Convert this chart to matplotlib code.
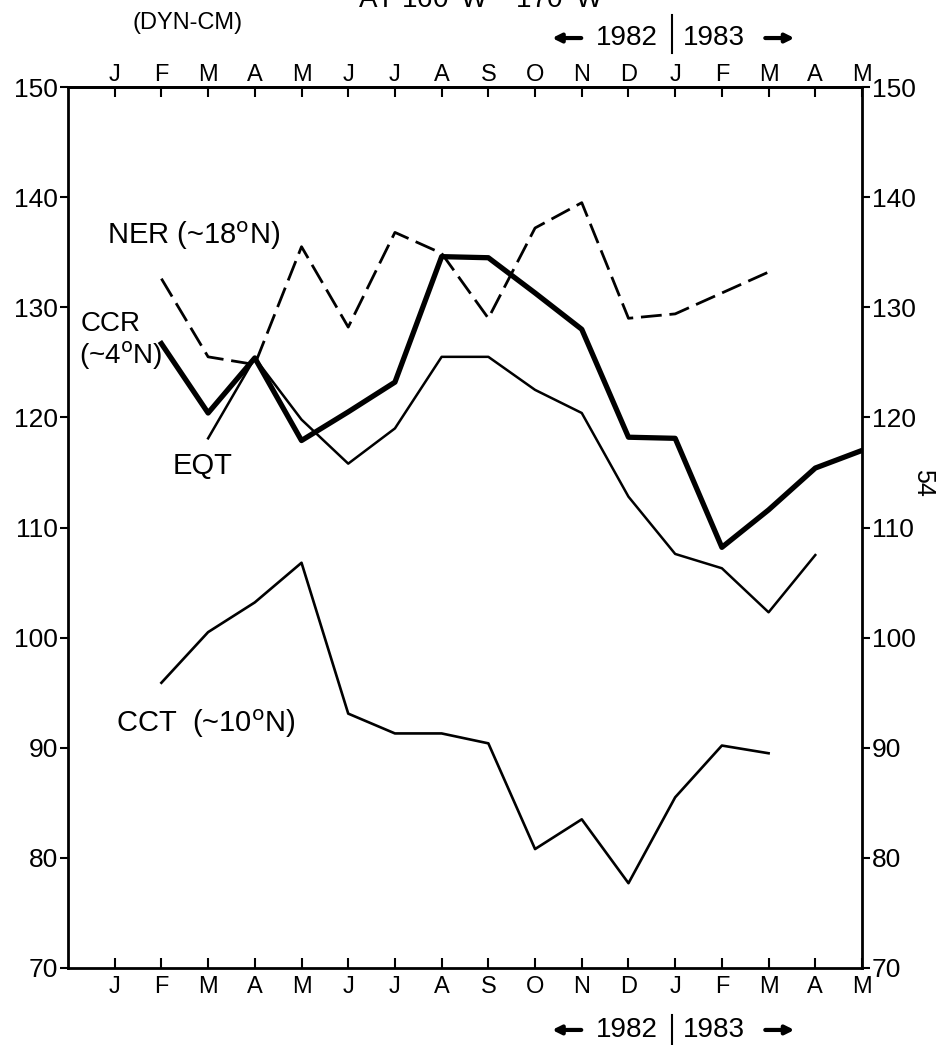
import numpy as np
import matplotlib
matplotlib.use("Agg")
from matplotlib import pyplot as plt
from matplotlib.lines import Line2D

plt.rcParams['font.family'] = ['Liberation Sans', 'DejaVu Sans']

# month index: 1 = Jan 1982 ... 17 = May 1983
meses = ["J", "F", "M", "A", "M", "J", "J", "A", "S", "O", "N", "D",
         "J", "F", "M", "A", "M"]

ner_x = [2, 3, 4, 5, 6, 7, 8, 9, 10, 11, 12, 13, 14, 15]
ner_y = [132.6, 125.5, 124.8, 135.5, 128.2, 136.8, 134.9, 129.0, 137.2,
         139.5, 129.0, 129.4, 131.3, 133.2]

ccr_x = [2, 3, 4, 5, 6, 7, 8, 9, 10, 11, 12, 13, 14, 15, 16, 17]
ccr_y = [126.7, 120.4, 125.4, 117.9, 120.5, 123.2, 134.6, 134.5, 131.3,
         128.0, 118.2, 118.1, 108.2, 111.6, 115.4, 117.0]

eqt_x = [3, 4, 5, 6, 7, 8, 9, 10, 11, 12, 13, 14, 15, 16]
eqt_y = [118.1, 125.4, 119.8, 115.8, 119.0, 125.5, 125.5, 122.5, 120.4,
         112.8, 107.6, 106.3, 102.3, 107.5]

cct_x = [2, 3, 4, 5, 6, 7, 8, 9, 10, 11, 12, 13, 14, 15]
cct_y = [95.9, 100.5, 103.2, 106.8, 93.1, 91.3, 91.3, 90.4, 80.8, 83.5,
         77.7, 85.5, 90.2, 89.5]

fig = plt.figure(figsize=(9.39, 10.45), dpi=100)
ax = fig.add_axes([0.0724, 0.0737, 0.8456, 0.843])

ax.plot(ner_x, ner_y, color='black', lw=2.0, dashes=(7.5, 2.8))
ax.plot(ccr_x, ccr_y, color='black', lw=3.8, solid_joinstyle='round')
ax.plot(eqt_x, eqt_y, color='black', lw=1.8)
ax.plot(cct_x, cct_y, color='black', lw=1.9)

ax.set_xlim(0, 17)
ax.set_ylim(70, 150)
for s in ax.spines.values():
   s.set_linewidth(2.0)

ax.set_xticks(range(1, 18))
ax.set_xticklabels(meses)
ax.set_yticks(range(70, 151, 10))
ax.tick_params(axis='x', direction='in', length=7, width=1.5, top=False,
               labelsize=17, pad=6)
ax.tick_params(axis='y', direction='out', length=6, width=1.5, right=True,
               labelright=True, labelsize=19, pad=1)

arriba = ax.secondary_xaxis('top')
arriba.set_xticks(range(1, 18))
arriba.set_xticklabels(meses)
arriba.tick_params(direction='in', length=7, width=1.5, labelsize=17, pad=1)
arriba.spines['top'].set_linewidth(2.0)

ax.text(0.83, 136.5, "NER (~18$^{\\rm o}$N)", fontsize=21, va='center')
ax.text(0.28, 128.5, "CCR", fontsize=20, va='center')
ax.text(0.24, 125.6, "(~4$^{\\rm o}$N)", fontsize=20, va='center')
ax.text(2.25, 115.6, "EQT", fontsize=21, va='center')
ax.text(1.02, 92.2, "CCT  (~10$^{\\rm o}$N)", fontsize=21, va='center')

# year markers, top and bottom
flecha = dict(arrowstyle='-|>,head_length=0.5,head_width=0.25', lw=3.0,
              color='black', shrinkA=0, shrinkB=0)
for yy, y0, y1 in [(0.9636, 0.9493, 0.9856), (0.0144, 0.0, 0.0287)]:
   fig.add_artist(plt.Annotation("", xy=(0.588, yy), xytext=(0.619, yy),
                                 xycoords='figure fraction',
                                 arrowprops=flecha))
   fig.text(0.700, yy, "1982", fontsize=20, ha='right', va='center')
   fig.add_artist(Line2D([0.716, 0.716], [y0, y1], color='black', lw=1.5,
                         transform=fig.transFigure))
   fig.text(0.727, yy, "1983", fontsize=20, ha='left', va='center')
   fig.add_artist(plt.Annotation("", xy=(0.846, yy), xytext=(0.815, yy),
                                 xycoords='figure fraction',
                                 arrowprops=flecha))

fig.text(0.2, 0.978, "(DYN-CM)", fontsize=17, ha='center', va='center')
fig.text(0.642, 0.9923, "AT 160$^{\\rm o}$W \u2013 170$^{\\rm o}$W",
         fontsize=20, ha='right', va='baseline')
fig.text(0.983, 0.538, "54", fontsize=18, rotation=270, ha='center',
         va='center')

fig.savefig("out.png", dpi=100)
